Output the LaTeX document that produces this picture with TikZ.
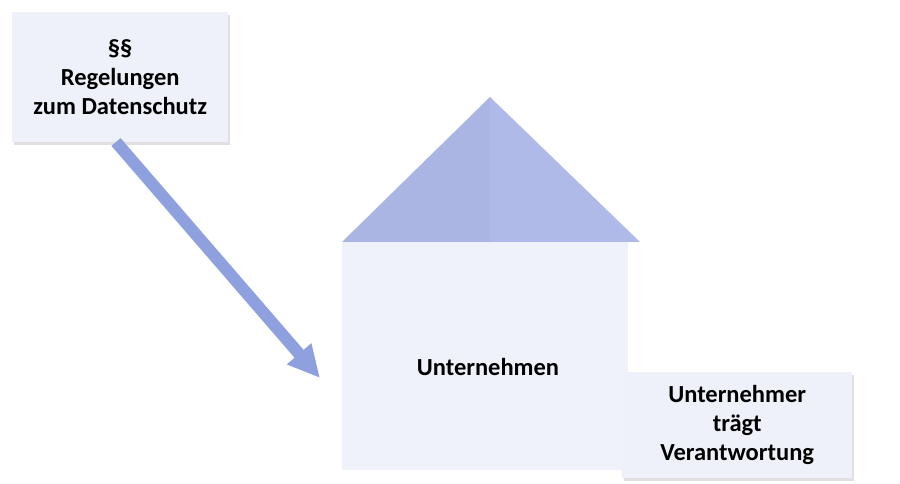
\documentclass[tikz,border=0pt]{standalone}
\usepackage{fontspec}
\setmainfont{Carlito}
\usetikzlibrary{arrows.meta,shadows}
\definecolor{boxfill}{HTML}{EEF0FA}
\definecolor{roofL}{HTML}{AAB5E4}
\definecolor{roofR}{HTML}{AFBAE8}
\definecolor{arrowc}{HTML}{8EA1DE}
\definecolor{bodyfill}{HTML}{F0F2FB}
\tikzset{
  lbl/.style={font=\bfseries\fontsize{24.5}{29}\selectfont, align=center, text=black},
  panel/.style={fill=boxfill, draw=none, drop shadow={shadow xshift=2pt, shadow yshift=-3pt, opacity=0.25}},
}
\begin{document}
\begin{tikzpicture}[x=1pt,y=1pt]
\useasboundingbox (0,0) rectangle (900,484);
% house roof
\coordinate (apex) at (490,387);
\coordinate (bl) at (342,242);
\coordinate (br) at (640,242);
\coordinate (bm) at (490,242);
\fill[roofL] (bl) -- (apex) -- (bm) -- cycle;
\fill[roofR] (bm) -- (apex) -- (br) -- cycle;
% house body
\node[fill=bodyfill, minimum width=286pt, minimum height=228pt, inner sep=0pt, anchor=north west] (body) at (342,242) {};
\node[lbl] (unt) at (488,117) {Unternehmen};
% responsibility box
\node[panel, minimum width=230pt, minimum height=106pt, inner sep=0pt, anchor=north west] (resp) at (622,112) {};
\node[lbl] (resptxt) at (resp.center) {Unternehmer\\trägt\\Verantwortung};
% rules box
\node[panel, minimum width=216pt, minimum height=130pt, inner sep=0pt, anchor=north west] (rules) at (12,472) {};
\node[lbl] (rulestxt) at (rules.center) {§§\\Regelungen\\zum Datenschutz};
% arrow
\coordinate (tip) at (320,106);
\draw[arrowc, line width=12pt, -{Triangle[length=32pt,width=30pt]}] (116,342) -- (tip);
\end{tikzpicture}
\end{document}
